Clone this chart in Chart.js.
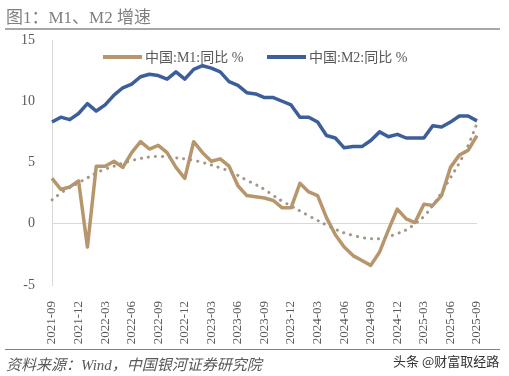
<!DOCTYPE html>
<html><head><meta charset="utf-8">
<script src="https://cdn.jsdelivr.net/npm/chart.js@4.4.1/dist/chart.umd.min.js"></script>
<style>
html,body{margin:0;padding:0;background:#fff;}
#wrap{position:relative;width:509px;height:376px;overflow:hidden;background:#fff;}
#c{position:absolute;left:0;top:0;}
.title{position:absolute;left:6px;top:3px;font-size:17px;font-family:"Liberation Serif","Noto Sans CJK SC";color:#7f7f7f;white-space:nowrap;}
.rule1{position:absolute;left:5px;top:28px;width:495px;height:2px;background:#a8a8a8;}
.rule2{position:absolute;left:5px;top:349px;width:495px;height:1px;background:#808080;}
.src{position:absolute;left:6px;top:353px;font-style:italic;font-size:15px;font-family:"Liberation Serif","Noto Sans CJK SC";color:#595959;white-space:nowrap;}
.wm{position:absolute;left:393px;top:351px;font-size:13px;font-family:"Noto Sans CJK SC";color:#333;white-space:nowrap;}
</style>
</head><body>
<div id="wrap">
<canvas id="c" width="509" height="376"></canvas>
<div class="title">图1：M1、M2 增速</div>
<div class="rule1"></div>
<div class="rule2"></div>
<div class="src">资料来源：Wind，中国银河证券研究院</div>
<div class="wm">头条 @财富取经路</div>
</div>
<script>
const categories = [
 "2021-09","2021-10","2021-11","2021-12",
 "2022-01","2022-02","2022-03","2022-04","2022-05","2022-06","2022-07","2022-08","2022-09","2022-10","2022-11","2022-12",
 "2023-01","2023-02","2023-03","2023-04","2023-05","2023-06","2023-07","2023-08","2023-09","2023-10","2023-11","2023-12",
 "2024-01","2024-02","2024-03","2024-04","2024-05","2024-06","2024-07","2024-08","2024-09","2024-10","2024-11","2024-12",
 "2025-01","2025-02","2025-03","2025-04","2025-05","2025-06","2025-07","2025-08","2025-09"
];
const m1Yoy = [3.7,2.8,3.0,3.5,-1.9,4.7,4.7,5.1,4.6,5.8,6.7,6.1,
 6.4,5.8,4.6,3.7,6.7,5.8,5.1,5.3,4.7,3.1,2.3,2.2,
 2.1,1.9,1.3,1.3,3.3,2.6,2.3,0.5,-0.9,-1.9,-2.6,-3.0,
 -3.4,-2.3,-0.5,1.2,0.4,0.1,1.6,1.5,2.3,4.6,5.6,6.0,7.2];
const m2Yoy = [8.3,8.7,8.5,9.0,9.8,9.2,9.7,10.5,11.1,11.4,12.0,12.2,
 12.1,11.8,12.4,11.8,12.6,12.9,12.7,12.4,11.6,11.3,10.7,10.6,
 10.3,10.3,10.0,9.7,8.7,8.7,8.3,7.2,7.0,6.2,6.3,6.3,
 6.8,7.5,7.1,7.3,7.0,7.0,7.0,8.0,7.9,8.3,8.8,8.8,8.4];
const m1Trend = [1.95,2.5,2.95,3.35,3.75,4.15,4.45,4.7,4.95,5.15,5.33,5.45,
 5.5,5.45,5.38,5.3,5.18,5.0,4.8,4.56,4.3,3.95,3.55,3.2,
 2.8,2.3,1.85,1.45,1.05,0.65,0.27,-0.1,-0.45,-0.75,-0.95,-1.12,
 -1.22,-1.22,-1.05,-0.8,-0.5,0.0,0.6,1.5,2.55,3.75,4.97,6.4,8.2];
const yTicks = [-5,0,5,10,15];
const seriesNames = ["中国:M1:同比 %","中国:M2:同比 %"];

const C_M1 = "#b8966b", C_M2 = "#3c5e9b", C_TR = "#a39684";
const FONT = '"Liberation Serif","Noto Sans CJK SC"';

const legendPlugin = {
  id: 'customLegend',
  afterDraw(chart){
    const ctx = chart.ctx, a = chart.chartArea;
    const y = a.top + 17;
    const items = [{i:0, x:a.left+51},{i:1, x:a.left+215}];
    ctx.save();
    items.forEach(it=>{
      const ds = chart.data.datasets[it.i];
      ctx.strokeStyle = ds.borderColor; ctx.lineWidth = 4; ctx.lineCap='butt';
      ctx.beginPath(); ctx.moveTo(it.x, y); ctx.lineTo(it.x+39, y); ctx.stroke();
      ctx.fillStyle = '#595959'; ctx.font = '14px '+FONT; ctx.textBaseline='middle'; ctx.textAlign='left';
      ctx.fillText(ds.label, it.x+42, y+1);
    });
    ctx.restore();
  }
};

new Chart(document.getElementById('c'), {
  type: 'line',
  data: {
    labels: categories,
    datasets: [
      {label: seriesNames[0], data: m1Yoy, borderColor: C_M1, borderWidth: 3.5, pointRadius: 0, tension: 0, order: 1, borderJoinStyle:'round'},
      {label: seriesNames[1], data: m2Yoy, borderColor: C_M2, borderWidth: 3.5, pointRadius: 0, tension: 0, order: 2, borderJoinStyle:'round'},
      {label: 'trend', data: m1Trend, borderColor: C_TR, borderWidth: 3, borderDash: [0.1, 7], borderCapStyle: 'round', pointRadius: 0, tension: 0.4, order: 0}
    ]
  },
  options: {
    responsive: false, animation: false, devicePixelRatio: 1,
    layout: {padding: {left: 0, top: 40, right: 32, bottom: 0}},
    plugins: {legend: {display: false}, tooltip: {enabled: false}},
    scales: {
      x: {
        grid: {display: false}, border: {display: false},
        afterFit: s => { s.height = 91; },
        ticks: {autoSkip: false, maxRotation: 90, minRotation: 90, padding: 8,
          color: '#595959', font: {family: FONT, size: 13},
          callback: (v, i) => (i % 3 === 0 ? categories[i] : '')}
      },
      y: {
        min: -5, max: 15,
        afterBuildTicks: s => { s.ticks = yTicks.map(v => ({value: v})); },
        afterFit: s => { s.width = 52; },
        grid: {drawTicks: false, color: c => (c.tick && c.tick.value === 0 ? '#d9d9d9' : 'rgba(0,0,0,0)'), lineWidth: 1},
        border: {display: true, color: '#d9d9d9', width: 1},
        ticks: {padding: 17, color: '#595959', font: {family: FONT, size: 14}}
      }
    }
  },
  plugins: [legendPlugin]
});
</script>
</body></html>
